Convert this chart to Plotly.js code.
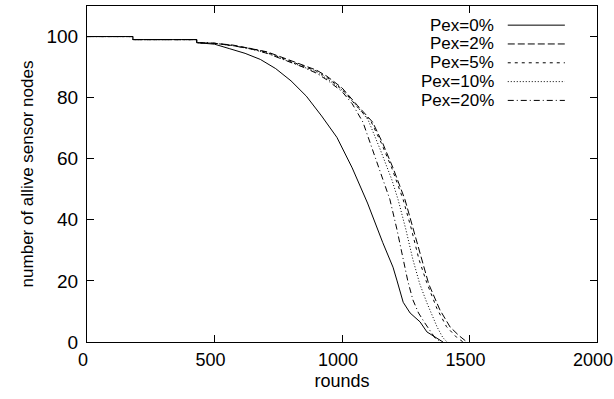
<!DOCTYPE html>
<html>
<head>
<meta charset="utf-8">
<script src="https://cdn.plot.ly/plotly-3.0.1.min.js"></script>
<style>html,body{margin:0;padding:0;background:#fff;}#chart{width:614px;height:399px;}</style>
</head>
<body>
<div id="chart"></div>
<script>
// ---- data ----
const seriesNames = ["Pex=0%", "Pex=2%", "Pex=5%", "Pex=10%", "Pex=20%"];

const rounds0 = [0,180,180,430,430,500,560,620,680,740,800,860,920,980,1040,1100,1160,1200,1216,1240,1267,1306,1333,1373,1396];
const alive0  = [100,100,99,99,98,97.5,96,94.5,92.5,89.5,85.5,80.5,74,67,57,45.5,32.5,24.5,20,13,9.5,6.6,3.3,1.3,0];

const rounds2 = [0,180,180,430,430,500,573,650,706,784,847,900,941,1000,1060,1120,1160,1200,1247,1280,1312,1340,1384,1424,1460,1490];
const alive2  = [100,100,99,99,98,97.8,97.2,96,95,92.6,90.6,89,87,83.2,77.5,72,65,57,46.6,37,27,19,10.5,4.9,2,0];

const rounds5 = [0,180,180,430,430,500,573,650,706,784,847,900,941,1000,1060,1115,1155,1195,1240,1272,1302,1332,1372,1410,1450,1475];
const alive5  = [100,100,99,99,98,97.8,97,96,94.8,92.4,90.4,88.7,86.6,82.8,77,72,65,57,46.6,37,27,19.5,11,5,1.5,0];

const rounds10 = [0,180,180,430,430,500,573,650,706,784,847,900,941,1000,1050,1102,1150,1196,1220,1250,1278,1305,1333,1373,1395,1412];
const alive10  = [100,100,99,99,98,97.8,97,95.8,94.6,92.2,90.2,88.4,86.2,82.5,78,72.8,63,53,46.6,37,27,19,12.8,4.9,1.5,0];

const rounds20 = [0,180,180,430,430,500,573,650,706,784,847,900,941,1000,1040,1082,1120,1150,1188,1215,1239,1258,1278,1300,1325,1365,1390];
const alive20  = [100,100,99,99,98,97.8,97,95.8,94.5,92,90,88,85.8,82,78,72,63,56,46.6,37,27,20,13.8,9.5,6.2,1.3,0];

const xTicks = [0, 500, 1000, 1500, 2000];
const yTicks = [0, 20, 40, 60, 80, 100];

// ---- styles ----
const dashes = ["solid", "7px,3px", "3px,4px", "1px,2px", "6px,3px,1px,3px"];
const xs = [rounds0, rounds2, rounds5, rounds10, rounds20];
const ys = [alive0, alive2, alive5, alive10, alive20];

const traces = seriesNames.map((n, i) => ({
  x: xs[i], y: ys[i], name: n, type: "scatter", mode: "lines",
  line: {color: "#000", width: 1, dash: dashes[i]},
  showlegend: false, hoverinfo: "skip"
}));

const fam = "Liberation Sans, Arial, sans-serif";
// legend emulation (text right-aligned, sample line to the right)
const rowY0 = 0.943, rowStep = 0.056;
const annotations = [], shapes = [];
seriesNames.forEach((n, i) => {
  const yy = rowY0 - i * rowStep;
  annotations.push({xref: "paper", yref: "paper", x: 0.80, y: yy, xanchor: "right", yanchor: "middle",
    text: n, showarrow: false, borderpad: 0, font: {family: fam, size: 17, color: "#000"}});
  shapes.push({type: "line", xref: "paper", yref: "paper", x0: 0.825, x1: 0.937, y0: yy, y1: yy,
    line: {color: "#000", width: 1, dash: dashes[i]}});
});

const tickFont = {family: fam, size: 19, color: "#000"};
const xTickFont = {family: fam, size: 18, color: "#000"};
const titleFont = {family: fam, size: 17, color: "#000"};
const layout = {
  width: 614, height: 399,
  margin: {l: 87, r: 17, t: 6, b: 57},
  paper_bgcolor: "#fff", plot_bgcolor: "#fff",
  font: tickFont,
  showlegend: false,
  xaxis: {
    range: [0, 2000], tickvals: xTicks, ticktext: xTicks.map(String),
    ticks: "inside", ticklen: 7, tickcolor: "#000", showline: true, linecolor: "#000", linewidth: 1,
    mirror: "allticks", showgrid: false, zeroline: false, tickfont: xTickFont,
    ticklabeloverflow: "allow", ticklabelstandoff: 1, ticklabelshift: -4,
    title: {text: "rounds", font: {family: fam, size: 18, color: "#000"}, standoff: 5}
  },
  yaxis: {
    range: [0, 110], tickvals: yTicks, ticktext: yTicks.map(String),
    ticks: "inside", ticklen: 7, tickcolor: "#000", showline: true, linecolor: "#000", linewidth: 1,
    mirror: "allticks", showgrid: false, zeroline: false, tickfont: tickFont,
    ticklabelstandoff: 4,
    title: {text: "number of allive sensor nodes", font: titleFont, standoff: 8}
  },
  annotations: annotations,
  shapes: shapes
};

Plotly.newPlot("chart", traces, layout, {staticPlot: true, displayModeBar: false});
</script>
</body>
</html>
